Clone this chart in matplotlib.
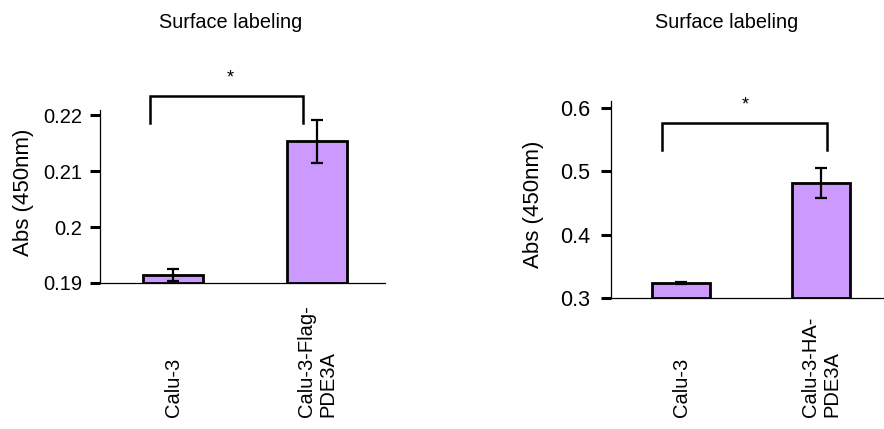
import matplotlib
matplotlib.use("Agg")
import matplotlib.pyplot as plt
import matplotlib.transforms as mtrans

plt.rcParams['font.family'] = ['Liberation Sans', 'DejaVu Sans']

# data
title = "Surface labeling"
ylabel = "Abs (450nm)"

left_labels = ["Calu-3", "Calu-3-Flag-\nPDE3A"]
left_means = [0.1914, 0.2153]
left_errs = [0.0011, 0.0039]
left_ticks = [0.19, 0.20, 0.21, 0.22]
left_ticklabels = ["0.19", "0.2", "0.21", "0.22"]

right_labels = ["Calu-3", "Calu-3-HA-\nPDE3A"]
right_means = [0.324, 0.482]
right_errs = [0.002, 0.024]
right_ticks = [0.3, 0.4, 0.5, 0.6]
right_ticklabels = ["0.3", "0.4", "0.5", "0.6"]

bar_color = "#CC99FF"
fs = 14.5


def draw_panel(fig, rect, labels, means, errs, ticks, ticklabels,
               xlim, ylim, width, bracket, star, tick_pad, tick_fs):
    ax = fig.add_axes(rect)
    x = list(range(len(means)))
    heights = [m - ylim[0] for m in means]
    # bars start at the axis floor
    ax.bar(x, heights, width=width, bottom=ylim[0],
           color=bar_color, edgecolor="black", linewidth=2, zorder=2)
    ax.errorbar(x, means, yerr=errs, fmt="none", ecolor="black",
                elinewidth=1.6, capsize=4.5, capthick=1.6, zorder=3,
                clip_on=False)
    ax.set_xlim(*xlim)
    ax.set_ylim(*ylim)
    ax.set_yticks(ticks)
    ax.set_yticklabels(ticklabels, fontsize=tick_fs)
    ax.set_xticks([])
    for s in ["top", "right"]:
        ax.spines[s].set_visible(False)
    for s in ["left", "bottom"]:
        ax.spines[s].set_linewidth(0.9)
    ax.tick_params(axis="y", direction="out", length=7, width=2.2,
                   pad=tick_pad)

    # significance bracket
    bx0, bx1, btop, bend = bracket
    ax.plot([bx0, bx0, bx1, bx1], [bend, btop, btop, bend], color="black",
            lw=1.8, clip_on=False, solid_joinstyle="miter")
    ax.text(star[0], star[1], "*", ha="center", va="center", fontsize=13,
            clip_on=False)

    # category labels, rotated and aligned at the bottom of the figure
    trans = mtrans.blended_transform_factory(ax.transData, fig.transFigure)
    for xi, lab in zip(x, labels):
        ax.text(xi, 1 - 417 / 429, lab, transform=trans, rotation=90,
                ha="center", va="bottom", multialignment="left",
                fontsize=fs, linespacing=1.15)
    return ax


def main():
    fig = plt.figure(figsize=(8.84, 4.29), dpi=100)

    draw_panel(fig, [100 / 884, 1 - 283 / 429, 285 / 884, 173 / 429],
               left_labels, left_means, left_errs, left_ticks,
               left_ticklabels, (-0.507, 1.472), (0.19, 0.2209), 0.417,
               (-0.16, 0.90, 0.2234, 0.2186), (0.40, 0.2266), 6, 14.5)

    draw_panel(fig, [611 / 884, 1 - 298 / 429, 273 / 884, 197 / 429],
               right_labels, right_means, right_errs, right_ticks,
               right_ticklabels, (-0.5, 1.45), (0.3, 0.611), 0.41,
               (-0.136, 1.043, 0.576, 0.5337), (0.457, 0.605), 8, 15.5)

    fig.text(231 / 884, 1 - 23 / 429, title, ha="center", va="center",
             fontsize=14.3)
    fig.text(727 / 884, 1 - 23 / 429, title, ha="center", va="center",
             fontsize=14.3)
    fig.text(23 / 884, 1 - 192 / 429, ylabel, rotation=90, ha="center",
             va="center", fontsize=16)
    fig.text(533 / 884, 1 - 204 / 429, ylabel, rotation=90, ha="center",
             va="center", fontsize=16)

    fig.savefig("out.png", dpi=100)


if __name__ == "__main__":
    main()
